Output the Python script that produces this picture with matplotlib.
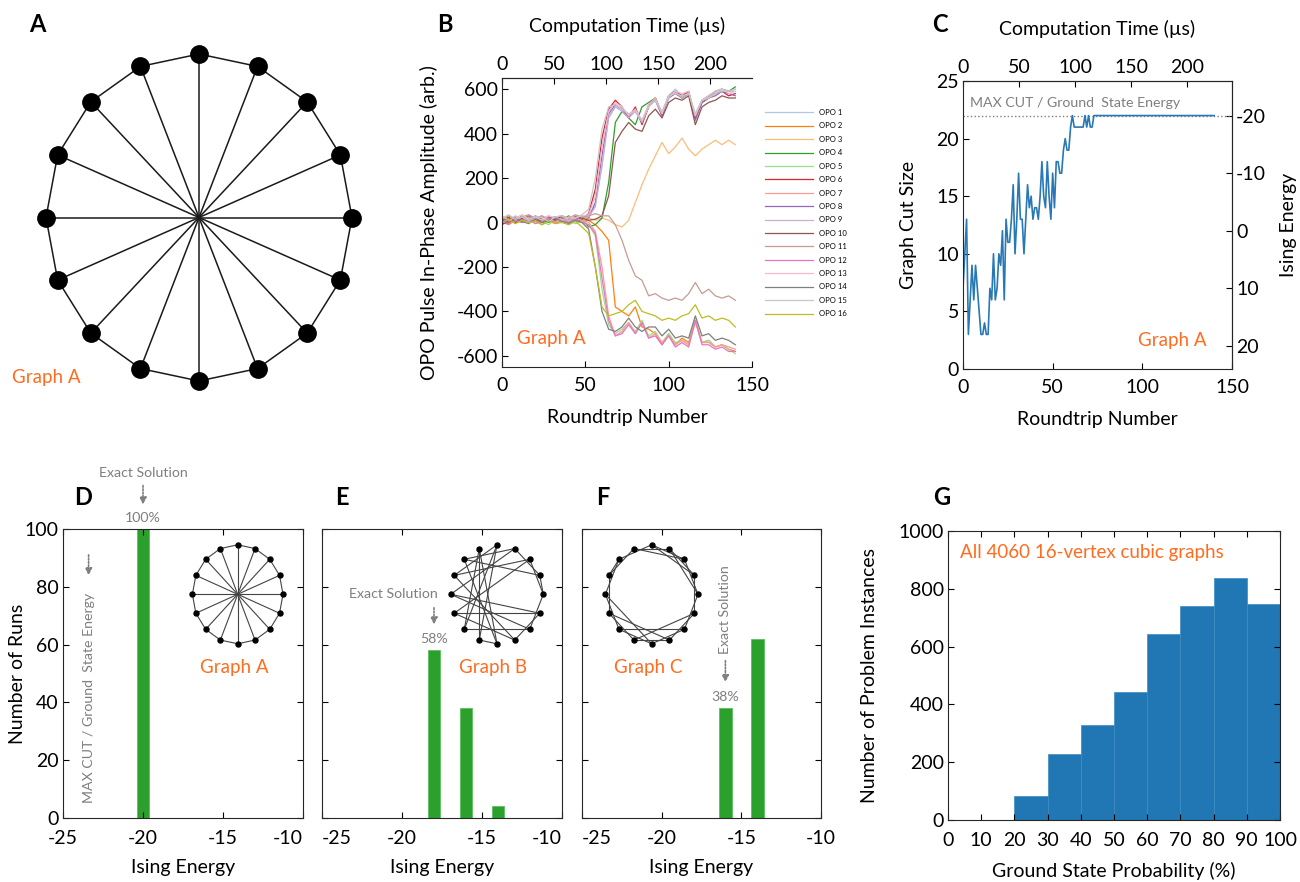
import matplotlib
matplotlib.use('Agg')
import matplotlib.pyplot as plt
import numpy as np

plt.rcParams['font.family'] = ['Lato', 'DejaVu Sans']
plt.rcParams['axes.unicode_minus'] = False
plt.rcParams['xtick.direction'] = 'in'
plt.rcParams['ytick.direction'] = 'in'
plt.rcParams['axes.edgecolor'] = '#262626'
plt.rcParams['font.size'] = 14

# ---- data ----
# panel B: OPO in-phase amplitude, sampled every 4 roundtrips
rt_b = np.arange(0, 141, 4)
opo1 = [20, 10, 30, 15, 25, 5, 20, 30, 10, 25, 15, 20, 30, 30, 80, 250, 480, 520, 510, 480, 500, 450, 520, 560, 490, 570, 600, 570, 580, 480, 550, 560, 590, 600, 590, 590]
opo2 = [10, -5, 15, 0, 20, 10, -10, 15, 5, 20, 0, 10, 5, 10, -10, -40, -80, -380, -400, -420, -380, -470, -480, -500, -550, -500, -550, -520, -540, -440, -540, -530, -560, -550, -570, -580]
opo3 = [15, 25, 5, 20, 30, 10, 25, 15, 20, 5, 25, 15, 10, 20, 10, 20, 10, -10, -20, 10, 90, 170, 240, 300, 360, 310, 340, 380, 330, 300, 330, 350, 370, 350, 370, 350]
opo4 = [0, 20, 10, 30, 5, 25, 15, 0, 20, 10, 30, 5, 15, -20, -10, 20, 180, 450, 500, 470, 440, 520, 540, 560, 490, 570, 590, 560, 580, 470, 550, 570, 590, 600, 590, 610]
opo5 = [5, 15, -5, 10, 0, 20, 5, -10, 15, 0, 10, -5, 5, -10, -60, -300, -460, -500, -480, -450, -490, -440, -510, -490, -540, -500, -540, -530, -550, -440, -540, -530, -560, -550, -570, -590]
opo6 = [10, 25, 0, 20, 10, 30, 5, 25, 15, 20, 0, 25, 15, 40, 150, 380, 510, 550, 520, 470, 520, 440, 520, 560, 480, 570, 590, 570, 590, 470, 540, 560, 580, 590, 570, 580]
opo7 = [0, 10, 25, 5, 15, -5, 10, 20, 0, 15, 5, 20, 10, 0, -40, -200, -420, -510, -490, -450, -500, -450, -520, -500, -540, -510, -550, -530, -550, -450, -540, -540, -560, -550, -560, -570]
opo8 = [25, 5, 20, 10, 30, 15, 0, 20, 25, 10, 20, 15, 25, 20, 90, 300, 490, 530, 510, 480, 510, 450, 530, 550, 480, 560, 580, 560, 580, 460, 540, 560, 570, 590, 580, 570]
opo9 = [15, 30, 10, 25, 5, 20, 30, 10, 25, 15, 5, 30, 20, 25, 70, 260, 470, 520, 500, 470, 500, 450, 520, 550, 490, 560, 590, 560, 580, 480, 550, 560, 580, 590, 590, 600]
opo10 = [-10, 10, 20, 0, 15, 25, 5, 20, 10, 30, 15, 25, 20, 10, 15, 30, 120, 360, 410, 450, 420, 410, 480, 510, 470, 540, 560, 550, 570, 440, 520, 540, 550, 570, 560, 560]
opo11 = [20, 30, 15, 25, 35, 20, 30, 10, 25, 30, 20, 35, 25, 30, 40, 30, 30, -10, -80, -170, -240, -260, -330, -320, -340, -350, -340, -350, -320, -270, -320, -300, -330, -340, -330, -350]
opo12 = [5, -10, 10, 0, 15, -5, 5, 20, -5, 10, 0, 15, 0, -10, -50, -250, -440, -510, -500, -460, -500, -450, -520, -510, -550, -510, -560, -540, -560, -440, -550, -550, -570, -560, -580, -580]
opo13 = [30, 10, 20, 35, 15, 25, 10, 30, 20, 10, 25, 20, 30, 35, 120, 340, 500, 540, 520, 480, 510, 460, 530, 560, 490, 570, 590, 580, 590, 480, 550, 570, 590, 600, 580, 590]
opo14 = [10, 0, 20, 5, -5, 15, 0, 10, 20, 5, -5, 10, 0, -30, -200, -400, -480, -490, -470, -430, -470, -490, -470, -470, -510, -480, -520, -510, -520, -420, -510, -500, -530, -520, -530, -550]
opo15 = [20, 35, 15, 25, 10, 30, 20, 5, 25, 30, 15, 20, 35, 60, 200, 420, 520, 530, 510, 490, 500, 460, 520, 550, 500, 570, 580, 570, 580, 490, 550, 560, 580, 600, 590, 600]
opo16 = [0, 15, -5, 10, 0, 5, -10, 5, -5, 0, -10, 5, -20, -50, -200, -380, -420, -410, -400, -370, -350, -400, -410, -420, -440, -430, -440, -420, -410, -370, -430, -420, -440, -430, -440, -470]
opo_all = [opo1, opo2, opo3, opo4, opo5, opo6, opo7, opo8,
           opo9, opo10, opo11, opo12, opo13, opo14, opo15, opo16]

# panel C: graph cut size per roundtrip
cut_size = [7, 10, 13, 3, 6, 9, 6, 9, 7, 5,
            3, 3, 4, 3, 3, 7, 6, 10, 6, 7,
            10, 9, 12, 6, 13, 11, 11, 13, 16, 10,
            13, 17, 13, 13, 10, 13, 16, 14, 15, 13,
            14, 14, 13, 15, 18, 15, 14, 18, 15, 13,
            17, 14, 18, 18, 17, 17, 19, 20, 19, 19,
            21, 22, 21, 21, 21, 21, 21, 21, 22, 21,
            22, 21, 21, 22, 22] + [22] * 66
max_cut = 22

# panels D-F: histograms of Ising energy
energy_a, runs_a = [-20], [100]
energy_b, runs_b = [-18, -16, -14], [58, 38, 4]
energy_c, runs_c = [-16, -14], [38, 62]

# panel G
prob_left = [0, 10, 20, 30, 40, 50, 60, 70, 80, 90]
instances = [0, 0, 83, 230, 327, 443, 642, 740, 838, 746]

# graphs (16 vertices on a circle, vertex 0 at top, clockwise)
edges_a = [(i, (i + 1) % 16) for i in range(16)] + [(i, i + 8) for i in range(8)]
edges_b = [(15, 9), (11, 5), (3, 4), (2, 4), (4, 6), (3, 14), (3, 1), (2, 13),
           (2, 11), (1, 14), (1, 12), (5, 7), (5, 12), (6, 12), (6, 10), (0, 10),
           (0, 9), (0, 13), (7, 13), (7, 11), (8, 14), (8, 15), (8, 9), (10, 15)]
edges_c = [(i, (i + 2) % 16) for i in range(16)] + \
          [(10, 6), (11, 7), (5, 9), (4, 1), (3, 0), (2, 15), (12, 8), (13, 14)]

ORANGE = '#ff6c1f'
GRAY = '#7f7f7f'
GREEN = '#2ca02c'
BLUE = '#2077b4'

W, H = 1300, 882
fig = plt.figure(figsize=(13, 8.82), dpi=100)


def box(l, t, r, b):
    return [l / W, 1 - b / H, (r - l) / W, (b - t) / H]


def ftext(x, y, s, **kw):
    fig.text(x / W, 1 - y / H, s, **kw)


def draw_graph(ax, edges, ms, lw, ec):
    ang = np.pi / 2 - 2 * np.pi * np.arange(16) / 16
    px, py = np.cos(ang), np.sin(ang)
    for i, j in edges:
        ax.plot([px[i], px[j]], [py[i], py[j]], color=ec, lw=lw, zorder=1)
    ax.plot(px, py, 'o', color='k', ms=ms, zorder=2)
    ax.set_xlim(-1.15, 1.15)
    ax.set_ylim(-1.15, 1.15)
    ax.axis('off')


def graph_box(cx, cy, rx, ry):
    return box(cx - 1.15 * rx, cy - 1.15 * ry, cx + 1.15 * rx, cy + 1.15 * ry)


# ---- A ----
axA = fig.add_axes(graph_box(199, 217.5, 153, 163.5))
draw_graph(axA, edges_a, 12.5, 1.1, '#1a1a1a')
ftext(12, 378, 'Graph A', color=ORANGE, fontsize=13.5, va='center')

# ---- B ----
axB = fig.add_axes(box(502, 78, 752, 367))
cols = plt.cm.tab20(np.arange(1, 17))
for k in range(16):
    axB.plot(rt_b, opo_all[k], color=cols[k], lw=0.9, label=f'OPO {k + 1}')
axB.set_xlim(0, 150)
axB.set_ylim(-650, 650)
axB.set_xticks([0, 50, 100, 150])
axB.set_yticks(range(-600, 601, 200))
axB.spines['right'].set_visible(False)
axB.tick_params(axis='x', length=4, pad=7)
axB.tick_params(axis='y', length=4, pad=3)
axB.set_xlabel('Roundtrip Number', labelpad=11)
axB.set_ylabel('OPO Pulse In-Phase Amplitude (arb.)')
axB.yaxis.set_label_coords(-0.258, 0.5)
topB = axB.secondary_xaxis('top', functions=(lambda r: r * 1.6, lambda t: t / 1.6))
topB.set_xticks([0, 50, 100, 150, 200])
topB.tick_params(length=4, pad=3.5)
topB.set_xlabel('Computation Time (µs)', labelpad=17.5)
axB.text(9, -520, 'Graph A', color=ORANGE, fontsize=13.5, va='center')
axB.legend(loc='upper left', bbox_to_anchor=(765 / W, 1 - 109 / H),
           bbox_transform=fig.transFigure, frameon=False, fontsize=5.5,
           handlelength=6.3, handletextpad=0.8, labelspacing=0.84,
           borderpad=0, borderaxespad=0)

# ---- C ----
axC = fig.add_axes(box(963, 81, 1232, 369))
axC.axhline(max_cut, color=GRAY, ls=':', lw=1)
axC.plot(np.arange(len(cut_size)), cut_size, color='#2878b5', lw=1.2)
axC.set_xlim(0, 150)
axC.set_ylim(0, 25)
axC.set_xticks([0, 50, 100, 150])
axC.set_yticks(range(0, 26, 5))
axC.tick_params(axis='x', length=4, pad=7)
axC.tick_params(axis='y', length=4, pad=3)
axC.set_xlabel('Roundtrip Number', labelpad=11)
axC.set_ylabel('Graph Cut Size')
axC.yaxis.set_label_coords(-0.172, 0.5)
topC = axC.secondary_xaxis('top', functions=(lambda r: r * 1.6, lambda t: t / 1.6))
topC.set_xticks([0, 50, 100, 150, 200])
topC.tick_params(length=4, pad=3.5)
topC.set_xlabel('Computation Time (µs)', labelpad=17.5)
rightC = axC.secondary_yaxis('right', functions=(lambda c: 24 - 2 * c, lambda e: (24 - e) / 2))
rightC.set_yticks([-20, -10, 0, 10, 20])
rightC.tick_params(length=4, pad=3)
rightC.set_ylabel('Ising Energy', labelpad=10)
axC.text(3.9, 23.1, 'MAX CUT / Ground  State Energy', color=GRAY, fontsize=10.2, va='center')
axC.text(136, 2.5, 'Graph A', color=ORANGE, fontsize=13.5, va='center', ha='right')

# ---- D, E, F ----
arrow = dict(arrowstyle='-|>', ls=(0, (1, 1)), color=GRAY, lw=1.2, mutation_scale=10)
hist_axes = []
for (l, r), e, n in [((63, 303), energy_a, runs_a), ((322, 562), energy_b, runs_b),
                     ((582, 821), energy_c, runs_c)]:
    ax = fig.add_axes(box(l, 529, r, 818))
    ax.bar(e, n, width=0.8, color=GREEN, edgecolor='#5cbf5c', lw=0.6)
    ax.set_xlim(-25, -10)
    ax.set_ylim(0, 100)
    ax.set_xticks([-25, -20, -15, -10])
    ax.set_yticks(range(0, 101, 20))
    ax.tick_params(axis='x', top=True, length=4, pad=9)
    ax.tick_params(axis='y', right=True, length=4, pad=3)
    ax.set_xlabel('Ising Energy', labelpad=8)
    hist_axes.append(ax)
axD, axE, axF = hist_axes
axD.set_ylabel('Number of Runs')
axD.yaxis.set_label_coords(-0.155, 0.5)
axE.set_yticklabels([])
axF.set_yticklabels([])
# keep neighbouring end labels apart
axD.get_xticklabels()[-1].set_ha('right')
axE.get_xticklabels()[0].set_ha('left')
axE.get_xticklabels()[-1].set_ha('right')
axF.get_xticklabels()[0].set_ha('left')

# D annotations
axD.text(-20, 119.5, 'Exact Solution', color=GRAY, fontsize=10.2, ha='center', va='center', clip_on=False)
axD.annotate('', xy=(-20, 107.5), xytext=(-20, 116), annotation_clip=False, arrowprops=arrow)
axD.text(-20, 103.8, '100%', color=GRAY, fontsize=10.2, ha='center', va='center', clip_on=False)
axD.text(-23.4, 41.5, 'MAX CUT / Ground  State Energy', color=GRAY, fontsize=10.2,
         rotation=90, ha='center', va='center')
axD.annotate('', xy=(-23.4, 83), xytext=(-23.4, 92), arrowprops=arrow)
axD.text(-14.3, 52.2, 'Graph A', color=ORANGE, fontsize=13.5, ha='center', va='center')

# E annotations
axE.text(-20.56, 77.5, 'Exact Solution', color=GRAY, fontsize=10.2, ha='center', va='center')
axE.annotate('', xy=(-18, 66), xytext=(-18, 73.7), arrowprops=arrow)
axE.text(-18, 62, '58%', color=GRAY, fontsize=10.2, ha='center', va='center')
axE.text(-14.3, 52.2, 'Graph B', color=ORANGE, fontsize=13.5, ha='center', va='center')

# F annotations
axF.text(-16, 72, 'Exact Solution', color=GRAY, fontsize=10.2, rotation=90, ha='center', va='center')
axF.annotate('', xy=(-16, 46), xytext=(-16, 55.4), arrowprops=arrow)
axF.text(-16, 41.9, '38%', color=GRAY, fontsize=10.2, ha='center', va='center')
axF.text(-20.84, 52.2, 'Graph C', color=ORANGE, fontsize=13.5, ha='center', va='center')

# insets
for (cx, rx), edges in [((237.7, 45.3), edges_a), ((497, 46.3), edges_b), ((651.7, 46.3), edges_c)]:
    ax_in = fig.add_axes(graph_box(cx, 594.3, rx, 49.5))
    draw_graph(ax_in, edges, 3.6, 0.8, '#444444')

# ---- G ----
axG = fig.add_axes(box(948, 531, 1280, 820))
axG.bar(prob_left, instances, width=10, align='edge', color=BLUE, edgecolor='#3d8bc3', lw=0.5)
axG.set_xlim(0, 100)
axG.set_ylim(0, 1000)
axG.set_xticks(range(0, 101, 10))
axG.set_yticks(range(0, 1001, 200))
axG.tick_params(axis='x', top=True, length=4, pad=9)
axG.tick_params(axis='y', right=True, length=4, pad=3)
axG.set_xlabel('Ground State Probability (%)', labelpad=9)
axG.set_ylabel('Number of Problem Instances')
axG.yaxis.set_label_coords(-0.211, 0.5)
axG.text(3.6, 925, 'All 4060 16-vertex cubic graphs', color=ORANGE, fontsize=13.5, va='center')

# panel letters
for s, x, y in [('A', 37, 25), ('B', 445, 25), ('C', 940, 25), ('D', 83, 498),
                ('E', 342, 498), ('F', 603, 498), ('G', 942, 498)]:
    ftext(x, y, s, fontsize=17, fontweight='bold', ha='center', va='center')

fig.savefig('out.png', dpi=100)
